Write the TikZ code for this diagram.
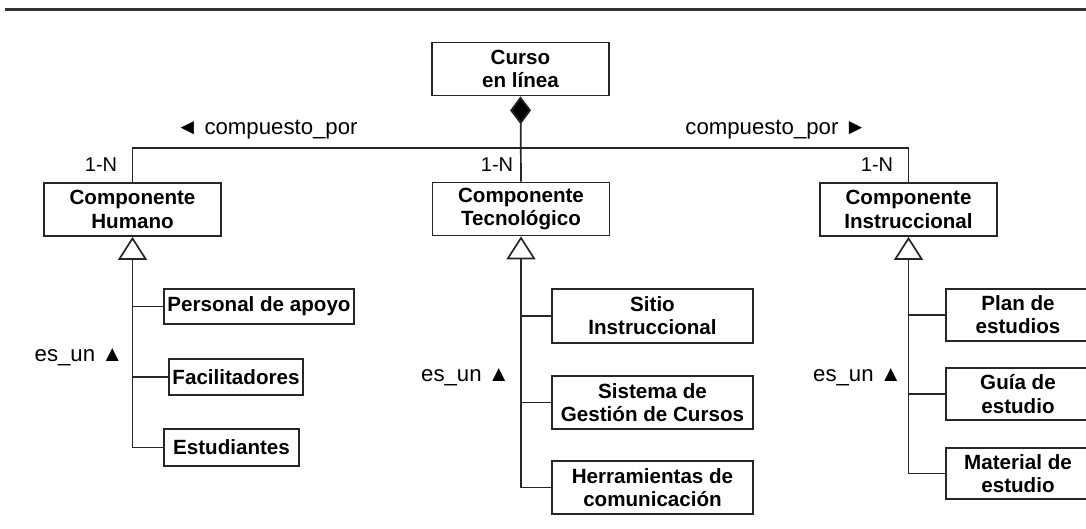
\documentclass[tikz,border=0pt]{standalone}
\usepackage{fontspec}
\setmainfont{Liberation Sans}
\usetikzlibrary{arrows.meta}
\begin{document}
\begin{tikzpicture}[x=0.5pt,y=-0.5pt,
  cls/.style={draw=black!85,line width=0.85pt,fill=white,inner sep=0pt,align=center,
    font=\fontsize{10.3}{11.6}\selectfont\bfseries},
  big/.style={cls,minimum width=88.5pt,minimum height=26.5pt},
  lbl/.style={inner sep=0pt,font=\fontsize{11.1}{13}\selectfont},
  card/.style={inner sep=0pt,font=\fontsize{10}{12}\selectfont},
  conn/.style={draw=black!85,line width=0.85pt},
  genarrow/.style={conn,-{Triangle[open,length=11.5pt,width=14.5pt,fill=white]}},
  comp/.style={conn,-{Diamond[length=14pt,width=10.5pt,fill=black]}}]
\useasboundingbox (0,0) rectangle (1086,529);
\clip (0,0) rectangle (1086,529);
% top rule
\draw[line width=1.5pt,draw=black!80] (5,10) -- (1086,10);
% main classes
\node[big] (curso) at (520.5,69) {Curso\\en línea};
\node[big] (humano) at (132.5,209.5) {Componente\\Humano};
\node[big] (tecno) at (521,209) {Componente\\Tecnológico};
\node[big] (instr) at (908.5,209.5) {Componente\\Instruccional};
% left children
\node[cls,minimum width=95pt,minimum height=17.5pt] (personal) at (259,306.5) {Personal de apoyo};
\node[cls,minimum width=67pt,minimum height=18pt] (facil) at (236,377) {Facilitadores};
\node[cls,minimum width=67.5pt,minimum height=18.5pt] (estud) at (231.5,447.5) {Estudiantes};
% middle children
\node[cls,minimum width=100.5pt,minimum height=27pt] (sitio) at (652.5,316) {Sitio\\Instruccional};
\node[cls,minimum width=100.5pt,minimum height=26.5pt] (sistema) at (652.5,402.5) {Sistema de\\Gestión de Cursos};
\node[cls,minimum width=100.5pt,minimum height=26.5pt] (herr) at (652.5,487.5) {Herramientas de\\comunicación};
% right children
\node[cls,minimum width=72pt,minimum height=26pt] (plan) at (1018,315) {Plan de\\estudios};
\node[cls,minimum width=72pt,minimum height=26pt] (guia) at (1018,394) {Guía de\\estudio};
\node[cls,minimum width=72pt,minimum height=25.5pt] (material) at (1018,473.5) {Material de\\estudio};
% composition
\coordinate (bus) at (520.5,148);
\draw[conn] (humano.north) |- (bus) -| (instr.north);
\draw[comp] (tecno.north) -- (curso.south);
% generalizations
\coordinate (hb) at (humano.south |- estud.west);
\coordinate (tb) at (tecno.south |- herr.west);
\coordinate (ib) at (instr.south |- material.west);
\draw[genarrow] (hb) -- (humano.south);
\draw[genarrow] (tb) -- (tecno.south);
\draw[genarrow] (ib) -- (instr.south);
\foreach \c in {personal,facil,estud} \draw[conn] (\c.west) -- (humano.south |- \c.west);
\foreach \c in {sitio,sistema,herr} \draw[conn] (\c.west) -- (tecno.south |- \c.west);
\foreach \c in {plan,guia,material} \draw[conn] (\c.west) -- (instr.south |- \c.west);
% labels
\node[lbl] (cl) at (267,130) {◄ compuesto\_por};
\node[lbl] (cr) at (776,130) {compuesto\_por ►};
\node[card] (nl) at (101,165) {1-N};
\node[card] (nm) at (497,165) {1-N};
\node[card] (nr) at (877,165) {1-N};
\node[lbl] (el) at (79,357) {es\_un ▲};
\node[lbl] (em) at (465.5,377) {es\_un ▲};
\node[lbl] (er) at (857.5,377) {es\_un ▲};
\end{tikzpicture}
\end{document}
